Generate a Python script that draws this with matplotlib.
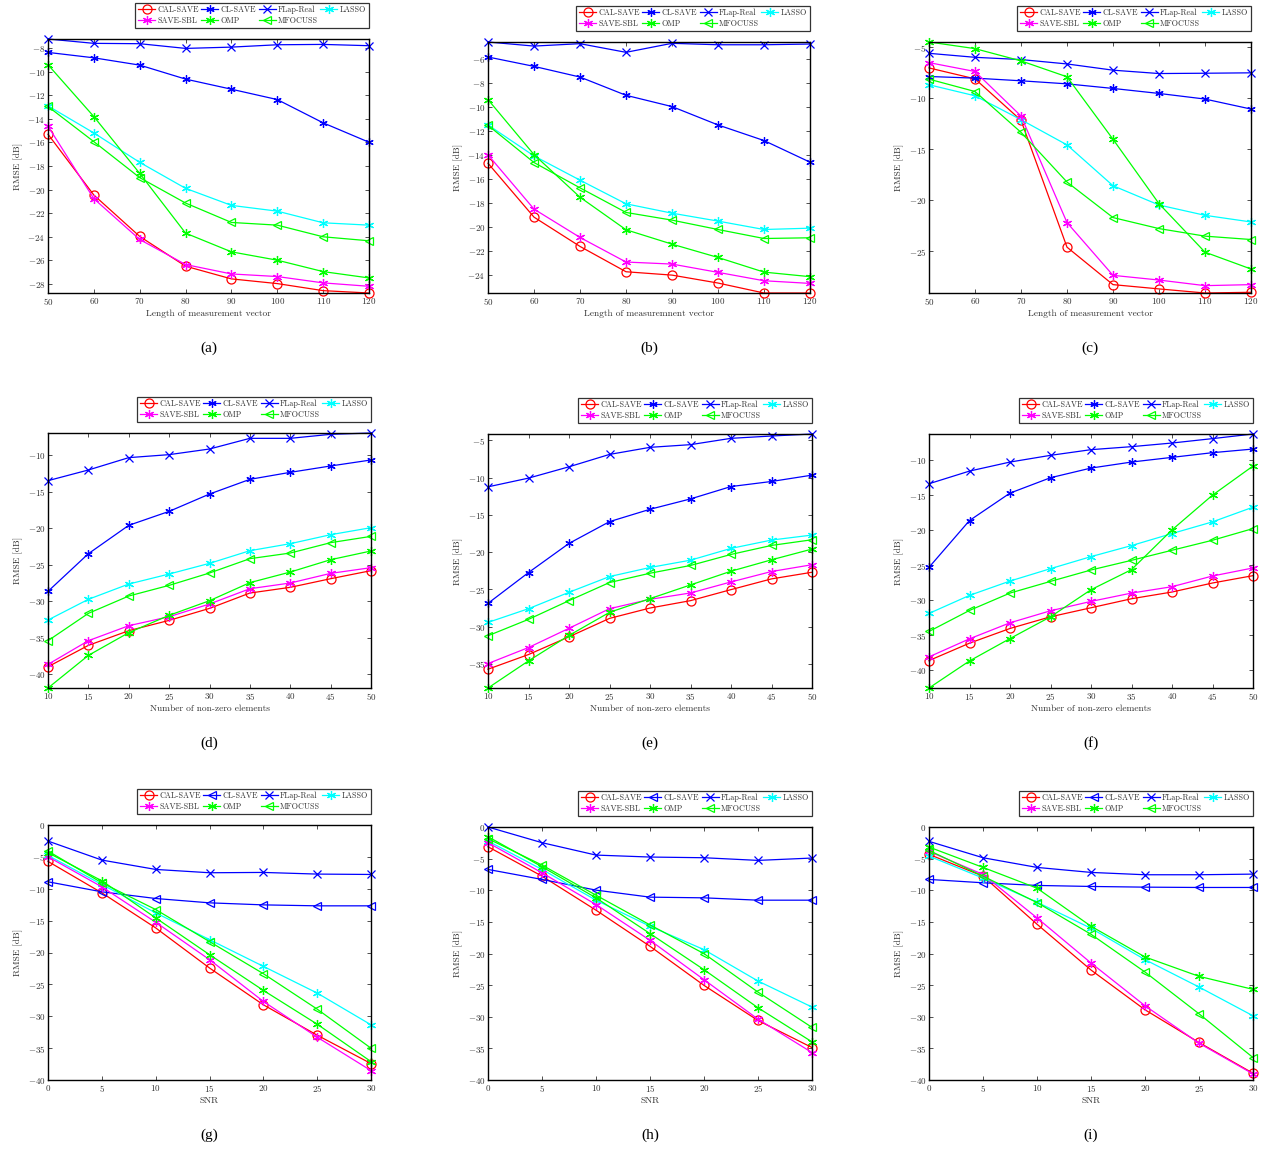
import matplotlib
matplotlib.use("Agg")
import matplotlib.pyplot as plt
from matplotlib.ticker import MultipleLocator

plt.rcParams['font.family'] = ['cmr10', 'DejaVu Serif']
plt.rcParams['mathtext.fontset'] = 'cm'
plt.rcParams['axes.formatter.use_mathtext'] = True
plt.rcParams['axes.unicode_minus'] = True

# ---- data ----
names = ['CAL-SAVE', 'CL-SAVE', 'FLap-Real', 'LASSO', 'SAVE-SBL', 'OMP', 'MFOCUSS']

x_len = [50, 60, 70, 80, 90, 100, 110, 120]
x_nz = [10, 15, 20, 25, 30, 35, 40, 45, 50]
x_snr = [0, 5, 10, 15, 20, 25, 30]

a_cal = [-15.30, -20.47, -23.99, -26.52, -27.60, -28.00, -28.60, -28.80]
a_sbl = [-14.62, -20.78, -24.25, -26.38, -27.18, -27.40, -27.94, -28.23]
a_cl = [-8.34, -8.80, -9.42, -10.61, -11.47, -12.35, -14.33, -15.98]
a_omp = [-9.39, -13.80, -18.63, -23.71, -25.30, -26.01, -26.98, -27.52]
a_flap = [-7.20, -7.57, -7.60, -8.00, -7.89, -7.69, -7.66, -7.77]
a_mf = [-12.94, -15.93, -18.99, -21.15, -22.80, -23.03, -24.02, -24.36]
a_lasso = [-12.89, -15.19, -17.69, -19.90, -21.35, -21.84, -22.83, -23.03]

b_cal = [-14.71, -19.20, -21.64, -23.75, -24.03, -24.69, -25.52, -25.52]
b_sbl = [-14.01, -18.53, -20.89, -22.94, -23.11, -23.80, -24.50, -24.72]
b_cl = [-5.86, -6.64, -7.53, -9.05, -9.99, -11.52, -12.82, -14.62]
b_omp = [-9.41, -13.99, -17.54, -20.25, -21.45, -22.56, -23.78, -24.16]
b_flap = [-4.61, -4.95, -4.75, -5.47, -4.72, -4.84, -4.84, -4.78]
b_mf = [-11.55, -14.65, -16.76, -18.81, -19.45, -20.23, -20.98, -20.92]
b_lasso = [-11.52, -14.10, -16.12, -18.09, -18.87, -19.53, -20.23, -20.12]

c_cal = [-7.02, -8.09, -12.15, -24.58, -28.25, -28.67, -29.07, -29.00]
c_sbl = [-6.50, -7.37, -11.73, -22.17, -27.34, -27.80, -28.35, -28.25]
c_cl = [-7.86, -8.02, -8.28, -8.58, -9.03, -9.52, -10.07, -11.05]
c_omp = [-4.48, -5.13, -6.33, -7.89, -14.01, -20.32, -25.07, -26.72]
c_flap = [-5.59, -5.98, -6.20, -6.63, -7.24, -7.57, -7.54, -7.50]
c_mf = [-8.12, -9.33, -13.33, -18.20, -21.68, -22.76, -23.50, -23.83]
c_lasso = [-8.67, -9.75, -12.09, -14.56, -18.56, -20.45, -21.46, -22.11]

d_cal = [-38.96, -36.04, -34.03, -32.62, -30.98, -28.88, -28.10, -26.92, -25.82]
d_sbl = [-38.64, -35.40, -33.35, -32.12, -30.38, -28.29, -27.51, -26.19, -25.41]
d_cl = [-28.65, -23.50, -19.62, -17.71, -15.34, -13.33, -12.37, -11.50, -10.68]
d_omp = [-41.87, -37.41, -34.30, -31.93, -29.93, -27.46, -26.01, -24.32, -23.13]
d_flap = [-13.51, -12.05, -10.36, -9.95, -9.18, -7.72, -7.72, -7.17, -6.99]
d_mf = [-35.40, -31.66, -29.29, -27.83, -26.14, -24.18, -23.41, -21.99, -21.13]
d_lasso = [-32.57, -29.74, -27.65, -26.28, -24.82, -23.09, -22.13, -20.90, -19.94]

e_cal = [-35.71, -33.74, -31.36, -28.89, -27.50, -26.51, -25.03, -23.59, -22.70]
e_sbl = [-34.95, -32.80, -30.22, -27.59, -26.33, -25.48, -24.00, -22.60, -21.69]
e_cl = [-26.87, -22.74, -18.83, -15.91, -14.25, -12.86, -11.20, -10.52, -9.67]
e_omp = [-38.23, -34.59, -31.18, -28.08, -26.24, -24.40, -22.56, -21.03, -19.59]
e_flap = [-11.24, -10.07, -8.55, -6.89, -5.94, -5.58, -4.73, -4.42, -4.15]
e_mf = [-31.22, -29.02, -26.51, -24.08, -22.83, -21.79, -20.31, -19.10, -18.34]
e_lasso = [-29.43, -27.59, -25.39, -23.28, -22.06, -21.08, -19.50, -18.38, -17.71]

f_cal = [-38.62, -36.13, -34.03, -32.36, -31.07, -29.78, -28.82, -27.53, -26.48]
f_sbl = [-38.09, -35.51, -33.22, -31.50, -30.16, -28.97, -28.06, -26.53, -25.38]
f_cl = [-25.29, -18.60, -14.68, -12.48, -11.10, -10.24, -9.57, -8.90, -8.38]
f_omp = [-42.54, -38.67, -35.47, -32.36, -28.49, -25.62, -19.94, -14.97, -10.81]
f_flap = [-13.34, -11.53, -10.24, -9.28, -8.47, -8.04, -7.52, -6.89, -6.23]
f_mf = [-34.46, -31.45, -28.97, -27.30, -25.67, -24.29, -22.85, -21.42, -19.75]
f_lasso = [-31.88, -29.30, -27.25, -25.48, -23.76, -22.18, -20.46, -18.79, -16.69]

g_cal = [-5.71, -10.64, -16.14, -22.43, -28.20, -32.97, -37.42]
g_sbl = [-4.98, -9.70, -15.25, -21.12, -27.67, -33.28, -38.52]
g_cl = [-8.91, -10.48, -11.53, -12.21, -12.53, -12.68, -12.68]
g_omp = [-4.35, -8.75, -14.57, -20.34, -25.94, -31.24, -37.11]
g_flap = [-2.52, -5.50, -6.97, -7.49, -7.44, -7.70, -7.76]
g_mf = [-4.09, -9.07, -13.26, -18.29, -23.32, -28.88, -35.01]
g_lasso = [-4.77, -9.33, -13.78, -17.98, -22.17, -26.36, -31.34]

h_cal = [-3.12, -7.77, -13.15, -18.86, -25.04, -30.59, -34.87]
h_sbl = [-2.48, -7.24, -12.26, -17.91, -24.14, -30.38, -35.66]
h_cl = [-6.71, -8.29, -9.98, -11.09, -11.20, -11.57, -11.57]
h_omp = [-1.53, -6.29, -11.20, -16.85, -22.56, -28.58, -33.97]
h_flap = [0.0, -2.48, -4.44, -4.75, -4.86, -5.28, -4.91]
h_mf = [-1.85, -6.02, -10.78, -15.48, -20.02, -26.10, -31.68]
h_lasso = [-2.22, -6.71, -11.57, -15.69, -19.39, -24.35, -28.47]

i_cal = [-4.33, -7.77, -15.37, -22.61, -28.90, -34.07, -38.93]
i_sbl = [-3.86, -7.50, -14.37, -21.50, -28.26, -34.18, -39.04]
i_cl = [-8.29, -8.82, -9.24, -9.40, -9.51, -9.56, -9.56]
i_omp = [-3.17, -6.39, -9.67, -15.69, -20.55, -23.61, -25.67]
i_flap = [-2.27, -4.86, -6.39, -7.18, -7.55, -7.55, -7.45]
i_mf = [-3.70, -7.77, -11.94, -16.96, -22.93, -29.53, -36.45]
i_lasso = [-4.60, -8.08, -11.89, -16.01, -20.97, -25.30, -29.85]

W, H = 1268, 1149
fig = plt.figure(figsize=(W / 100, H / 100), dpi=100)

asterisk = (6, 2, 0)


def styles(cl_marker):
    return {
        'CAL-SAVE': dict(color='red', marker='o', mfc='none', ms=6.5),
        'CL-SAVE': dict(color='blue', marker=cl_marker, mfc='none', ms=6),
        'FLap-Real': dict(color='blue', marker='x', ms=5.5),
        'LASSO': dict(color='cyan', marker=asterisk, ms=6.5),
        'SAVE-SBL': dict(color='magenta', marker=asterisk, ms=6.5),
        'OMP': dict(color='lime', marker=asterisk, ms=6.5),
        'MFOCUSS': dict(color='lime', marker='<', mfc='none', ms=6),
    }


def draw_panel(box, x, series, xlabel, caption, ystep, ylim=None, cl_marker=asterisk):
    l, r, t, b = box
    ax = fig.add_axes([l / W, 1 - b / H, (r - l) / W, (b - t) / H])
    st = styles(cl_marker)
    lines = {}
    for name in names:
        (ln,) = ax.plot(x, series[name], lw=0.9, mew=0.9, label=name, **st[name])
        ln.set_clip_on(False)
        lines[name] = ln
    ax.set_xlim(x[0], x[-1])
    if ylim is None:
        allv = [v for s in series.values() for v in s]
        ylim = (min(allv), max(allv))
    ax.set_ylim(*ylim)
    ax.xaxis.set_major_locator(MultipleLocator(x[1] - x[0]))
    ax.yaxis.set_major_locator(MultipleLocator(ystep))
    ax.tick_params(direction='in', top=True, right=True, length=3, width=0.6,
                   labelsize=6.5, pad=2, colors='#333333', labelcolor='#333333')
    for sp in ax.spines.values():
        sp.set_linewidth(1.0)
    ax.set_xlabel(xlabel, fontsize=6.8, labelpad=2, color='#333333')
    ax.set_ylabel('RMSE [dB]', fontsize=6.8, labelpad=3, color='#333333')
    order = ['CAL-SAVE', 'SAVE-SBL', 'CL-SAVE', 'OMP', 'FLap-Real', 'MFOCUSS', 'LASSO']
    leg = ax.legend([lines[n] for n in order], order, ncol=4, loc='lower right',
                    bbox_to_anchor=(1.0, 1.0 + 11 / (b - t)), borderaxespad=0,
                    fontsize=5.8, frameon=True, fancybox=False, edgecolor='#333333',
                    framealpha=1, handlelength=2.1, handletextpad=0.3,
                    columnspacing=0.3, labelspacing=0.35, borderpad=0.35)
    leg.get_frame().set_linewidth(0.9)
    for txt in leg.get_texts():
        txt.set_color('#333333')
    fig.text((l + r) / 2 / W, 1 - (b + 55) / H, caption, ha='center', va='center',
             fontsize=11, family='Liberation Serif')
    return ax


def pack(cal, cl, flap, lasso, sbl, omp, mf):
    return {'CAL-SAVE': cal, 'CL-SAVE': cl, 'FLap-Real': flap, 'LASSO': lasso,
            'SAVE-SBL': sbl, 'OMP': omp, 'MFOCUSS': mf}


draw_panel((48, 369, 39, 293), x_len, pack(a_cal, a_cl, a_flap, a_lasso, a_sbl, a_omp, a_mf),
           'Length of measurement vector', '(a)', 2)
draw_panel((488, 810, 42, 293), x_len, pack(b_cal, b_cl, b_flap, b_lasso, b_sbl, b_omp, b_mf),
           'Length of measuremnent vector', '(b)', 2)
draw_panel((929, 1251, 42, 293), x_len, pack(c_cal, c_cl, c_flap, c_lasso, c_sbl, c_omp, c_mf),
           'Length of measurement vector', '(c)', 5)

draw_panel((48, 371, 433, 688), x_nz, pack(d_cal, d_cl, d_flap, d_lasso, d_sbl, d_omp, d_mf),
           'Number of non-zero elements', '(d)', 5)
draw_panel((488, 812, 434, 688), x_nz, pack(e_cal, e_cl, e_flap, e_lasso, e_sbl, e_omp, e_mf),
           'Number of non-zero elements', '(e)', 5)
draw_panel((929, 1253, 434, 688), x_nz, pack(f_cal, f_cl, f_flap, f_lasso, f_sbl, f_omp, f_mf),
           'Number of non-zero elements', '(f)', 5)

draw_panel((48, 371, 825, 1080), x_snr, pack(g_cal, g_cl, g_flap, g_lasso, g_sbl, g_omp, g_mf),
           'SNR', '(g)', 5, ylim=(-40, 0), cl_marker='<')
draw_panel((488, 812, 827, 1080), x_snr, pack(h_cal, h_cl, h_flap, h_lasso, h_sbl, h_omp, h_mf),
           'SNR', '(h)', 5, ylim=(-40, 0), cl_marker='<')
draw_panel((929, 1253, 827, 1080), x_snr, pack(i_cal, i_cl, i_flap, i_lasso, i_sbl, i_omp, i_mf),
           'SNR', '(i)', 5, ylim=(-40, 0), cl_marker='<')

fig.savefig('out.png', dpi=100)
